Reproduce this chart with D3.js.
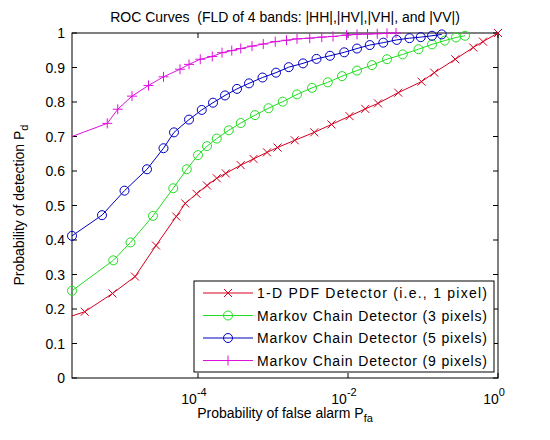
<!DOCTYPE html>
<html><head><meta charset="utf-8">
<script src="https://cdn.jsdelivr.net/npm/d3@7"></script>
<style>body{margin:0;background:#fff}text{font-family:"Liberation Sans",Arial,sans-serif;white-space:pre}</style>
</head><body><svg id="c" width="550" height="440"></svg>
<script>
const seriesNames=["1-D PDF Detector (i.e., 1 pixel)","Markov Chain Detector (3 pixels)","Markov Chain Detector (5 pixels)","Markov Chain Detector (9 pixels)"];
const seriesColors=["#d40020","#22dd22","#0000c0","#dd11dd"];
const seriesMarkers=["x","o","o","+"];
// log10(Pfa), Pd
const redLog=[-5.68,-5.51,-5.14,-4.84,-4.56,-4.29,-4.17,-4.02,-3.88,-3.75,-3.63,-3.43,-3.26,-3.08,-2.94,-2.71,-2.45,-2.22,-1.98,-1.77,-1.60,-1.33,-1.02,-0.85,-0.57,-0.33,-0.20,0];
const redPd=[0.18,0.192,0.245,0.294,0.384,0.468,0.506,0.534,0.558,0.579,0.593,0.617,0.635,0.654,0.668,0.689,0.712,0.735,0.759,0.780,0.796,0.827,0.859,0.885,0.924,0.958,0.975,1.0];
const greenLog=[-5.68,-5.13,-4.90,-4.60,-4.33,-4.15,-4.00,-3.88,-3.75,-3.59,-3.43,-3.24,-3.06,-2.87,-2.68,-2.48,-2.27,-2.08,-1.88,-1.68,-1.48,-1.27,-1.06,-0.88,-0.71,-0.56,-0.44];
const greenPd=[0.253,0.341,0.393,0.470,0.550,0.605,0.646,0.672,0.694,0.718,0.739,0.762,0.782,0.801,0.822,0.841,0.857,0.875,0.891,0.907,0.924,0.938,0.953,0.967,0.978,0.987,0.992];
const blueLog=[-5.68,-5.28,-4.98,-4.68,-4.46,-4.32,-4.12,-3.95,-3.80,-3.64,-3.48,-3.32,-3.14,-2.96,-2.79,-2.60,-2.42,-2.24,-2.05,-1.88,-1.71,-1.53,-1.35,-1.18,-1.03,-0.88,-0.75];
const bluePd=[0.412,0.472,0.543,0.605,0.666,0.712,0.749,0.777,0.798,0.819,0.838,0.854,0.871,0.885,0.901,0.912,0.925,0.934,0.944,0.955,0.965,0.972,0.980,0.985,0.988,0.992,0.996];
const magLog=[-5.68,-5.21,-5.07,-4.88,-4.66,-4.46,-4.24,-4.12,-3.97,-3.81,-3.68,-3.55,-3.43,-3.28,-3.13,-2.97,-2.82,-2.68,-2.51,-2.35,-2.20,-2.02,-1.88,-1.74,-1.61,-1.48,-1.36];
const magPd=[0.70,0.738,0.779,0.817,0.848,0.873,0.895,0.909,0.924,0.932,0.943,0.949,0.955,0.962,0.968,0.975,0.979,0.983,0.985,0.988,0.990,0.994,0.996,0.997,0.998,0.999,1.0];
const xTicks=[-4,-2,0];
const yTicks=[0,0.1,0.2,0.3,0.4,0.5,0.6,0.7,0.8,0.9,1];
const titleText="ROC Curves  (FLD of 4 bands: |HH|,|HV|,|VH|, and |VV|)";

const svg=d3.select("#c");
const L=72,R=498,T=33,B=378;
const x=d3.scaleLinear().domain([-5.68,0]).range([L,R]);
const y=d3.scaleLinear().domain([0,1]).range([B,T]);
const data=[[redLog,redPd],[greenLog,greenPd],[blueLog,bluePd],[magLog,magPd]];

svg.append("rect").attr("x",L).attr("y",T).attr("width",R-L).attr("height",B-T).attr("fill","#fff").attr("stroke","#000");
const g=svg.append("g").attr("font-size",14);
xTicks.forEach(t=>{
  const px=x(t);
  g.append("line").attr("x1",px).attr("x2",px).attr("y1",B).attr("y2",B-5).attr("stroke","#000");
  g.append("line").attr("x1",px).attr("x2",px).attr("y1",T).attr("y2",T+5).attr("stroke","#000");
  const tx=g.append("text").attr("x",px-4).attr("y",B+26).attr("text-anchor","middle");
  tx.append("tspan").text("10");
  tx.append("tspan").attr("dy",-8).attr("font-size",11).text(String(t));
});
yTicks.forEach(t=>{
  const py=y(t);
  g.append("line").attr("x1",L).attr("x2",L+5).attr("y1",py).attr("y2",py).attr("stroke","#000");
  g.append("line").attr("x1",R).attr("x2",R-5).attr("y1",py).attr("y2",py).attr("stroke","#000");
  g.append("text").attr("x",L-7).attr("y",py+5).attr("text-anchor","end").text(String(t));
});

const line=d3.line().x(d=>x(d[0])).y(d=>y(d[1]));
function marker(sel,type,color,cx,cy){
  if(type==="o") sel.append("circle").attr("cx",cx).attr("cy",cy).attr("r",4.5).attr("fill","none").attr("stroke",color);
  else if(type==="x") sel.append("path").attr("d",`M${cx-4},${cy-4}L${cx+4},${cy+4}M${cx-4},${cy+4}L${cx+4},${cy-4}`).attr("stroke",color);
  else sel.append("path").attr("d",`M${cx-5},${cy}L${cx+5},${cy}M${cx},${cy-5}L${cx},${cy+5}`).attr("stroke",color);
}
data.forEach((s,i)=>{
  const pts=s[0].map((v,j)=>[v,s[1][j]]);
  const sg=svg.append("g");
  sg.append("path").attr("d",line(pts)).attr("fill","none").attr("stroke",seriesColors[i]).attr("stroke-width",1);
  pts.forEach((p,j)=>{ if(j===0 && i!==1 && i!==2) return; marker(sg,seriesMarkers[i],seriesColors[i],x(p[0]),y(p[1])); });
});

// legend
const lg=svg.append("g");
lg.append("rect").attr("x",194).attr("y",281).attr("width",300).attr("height",91).attr("fill","#fff").attr("stroke","#000");
seriesNames.forEach((n,i)=>{
  const ly=293+i*22.5;
  lg.append("line").attr("x1",203).attr("x2",253).attr("y1",ly).attr("y2",ly).attr("stroke",seriesColors[i]);
  marker(lg,seriesMarkers[i],seriesColors[i],228,ly);
  lg.append("text").attr("x",257).attr("y",ly+5).attr("font-size",14).attr("textLength",230).text(n);
});

svg.append("text").attr("x",285).attr("y",22).attr("text-anchor","middle").attr("font-size",14).text(titleText);
const xl=svg.append("text").attr("x",285).attr("y",418).attr("text-anchor","middle").attr("font-size",14);
xl.append("tspan").text("Probability of false alarm P");
xl.append("tspan").attr("dy",4).attr("font-size",11).text("fa");
const yl=svg.append("text").attr("transform","translate(24,205) rotate(-90)").attr("text-anchor","middle").attr("font-size",14);
yl.append("tspan").text("Probability of detection P");
yl.append("tspan").attr("dy",4).attr("font-size",11).text("d");
</script></body></html>
